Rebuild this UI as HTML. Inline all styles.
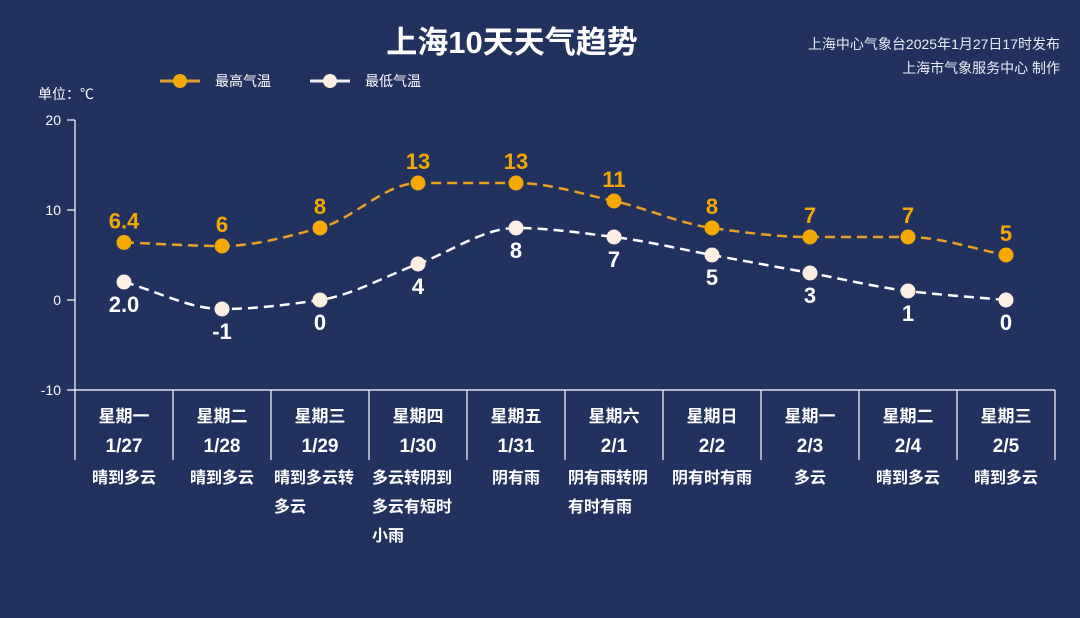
<!DOCTYPE html><html><head><meta charset="utf-8"><style>
body{margin:0;width:1080px;height:613px;background:#22325f;overflow:hidden;font-family:"Liberation Sans","Noto Sans CJK SC",sans-serif;}
</style></head><body>
<svg id="s" width="1080" height="613" xmlns="http://www.w3.org/2000/svg" font-family="Liberation Sans, Noto Sans CJK SC, sans-serif">
<text x="512" y="53" fill="#fff" font-size="31" font-weight="bold" text-anchor="middle">上海10天天气趋势</text>
<text x="1060" y="49" fill="#e8ecf5" font-size="14" text-anchor="end">上海中心气象台2025年1月27日17时发布</text>
<text x="1060" y="73" fill="#e8ecf5" font-size="14" text-anchor="end">上海市气象服务中心 制作</text>
<line x1="160" y1="81" x2="200" y2="81" stroke="#e0a030" stroke-width="3"/><circle cx="180" cy="81" r="7" fill="#f5a800"/>
<text x="215" y="86" fill="#fff" font-size="14">最高气温</text>
<line x1="310" y1="81" x2="350" y2="81" stroke="#eee" stroke-width="3"/><circle cx="330" cy="81" r="7" fill="#fbeee2"/>
<text x="365" y="86" fill="#fff" font-size="14">最低气温</text>
<text x="38" y="99" fill="#fff" font-size="14">单位：℃</text>
<g fill="#fff" font-size="14" text-anchor="end">
<text x="61" y="125">20</text><text x="61" y="215">10</text><text x="61" y="305">0</text><text x="61" y="395">-10</text></g>
<g stroke="#fff" stroke-width="1.2">
<line x1="75" y1="120" x2="75" y2="460"/><line x1="67" y1="120" x2="75" y2="120"/><line x1="67" y1="210" x2="75" y2="210"/><line x1="67" y1="300" x2="75" y2="300"/><line x1="67" y1="390" x2="1055" y2="390"/>
</g>
<g id="g"></g>
</svg>
<script>
var S=document.getElementById('g'),ns='http://www.w3.org/2000/svg';
function el(t,a,txt){var e=document.createElementNS(ns,t);for(var k in a)e.setAttribute(k,a[k]);if(txt!=null)e.textContent=txt;S.appendChild(e);return e;}
var hi=[6.4,6,8,13,13,11,8,7,7,5],lo=[2,-1,0,4,8,7,5,3,1,0];
var hl=['6.4','6','8','13','13','11','8','7','7','5'],ll=['2.0','-1','0','4','8','7','5','3','1','0'];
var wk=['星期一','星期二','星期三','星期四','星期五','星期六','星期日','星期一','星期二','星期三'];
var dt=['1/27','1/28','1/29','1/30','1/31','2/1','2/2','2/3','2/4','2/5'];
var wx=[['晴到多云'],['晴到多云'],['晴到多云转','多云'],['多云转阴到','多云有短时','小雨'],['阴有雨'],['阴有雨转阴','有时有雨'],['阴有时有雨'],['多云'],['晴到多云'],['晴到多云']];
function X(i){return 124+98*i}function Y(v){return 300-9*v}
function path(a){var n=a.length,y=a.map(Y),h=98,d=[],m=[];
for(var i=0;i<n-1;i++)d.push((y[i+1]-y[i])/h);
m[0]=d[0];m[n-1]=d[n-2];
for(var i=1;i<n-1;i++){m[i]=(d[i-1]*d[i]<=0)?0:(2/(1/d[i-1]+1/d[i]));}
var s='M'+X(0)+','+y[0];
for(var i=0;i<n-1;i++){s+=' C'+(X(i)+h/3)+','+(y[i]+m[i]*h/3)+' '+(X(i+1)-h/3)+','+(y[i+1]-m[i+1]*h/3)+' '+X(i+1)+','+y[i+1];}
return s;}
el('path',{d:path(hi),fill:'none',stroke:'#eaa020','stroke-width':2.5,'stroke-dasharray':'10,6'});
el('path',{d:path(lo),fill:'none',stroke:'#fff','stroke-width':2.5,'stroke-dasharray':'10,6'});
for(var i=0;i<10;i++){
el('circle',{cx:X(i),cy:Y(hi[i]),r:7.5,fill:'#f5a800'});
el('circle',{cx:X(i),cy:Y(lo[i]),r:7.5,fill:'#fbeee2'});
el('text',{x:X(i),y:Y(hi[i])-14,fill:'#f5a800','font-size':22,'font-weight':'bold','text-anchor':'middle'},hl[i]);
el('text',{x:X(i),y:Y(lo[i])+30,fill:'#fff','font-size':22,'font-weight':'bold','text-anchor':'middle'},ll[i]);
el('line',{x1:75+98*(i+1),y1:390,x2:75+98*(i+1),y2:460,stroke:'#fff','stroke-width':1.2});
el('text',{x:X(i),y:422,fill:'#fff','font-size':17,'font-weight':'bold','text-anchor':'middle'},wk[i]);
el('text',{x:X(i),y:452,fill:'#fff','font-size':19,'font-weight':'bold','text-anchor':'middle'},dt[i]);
var w=wx[i];for(var j=0;j<w.length;j++){var multi=w.length>1;
el('text',{x:multi?X(i)-46:X(i),y:483+j*29,fill:'#fff','font-size':16,'font-weight':'bold','text-anchor':multi?'start':'middle'},w[j]);}
}
</script>
</body></html>
